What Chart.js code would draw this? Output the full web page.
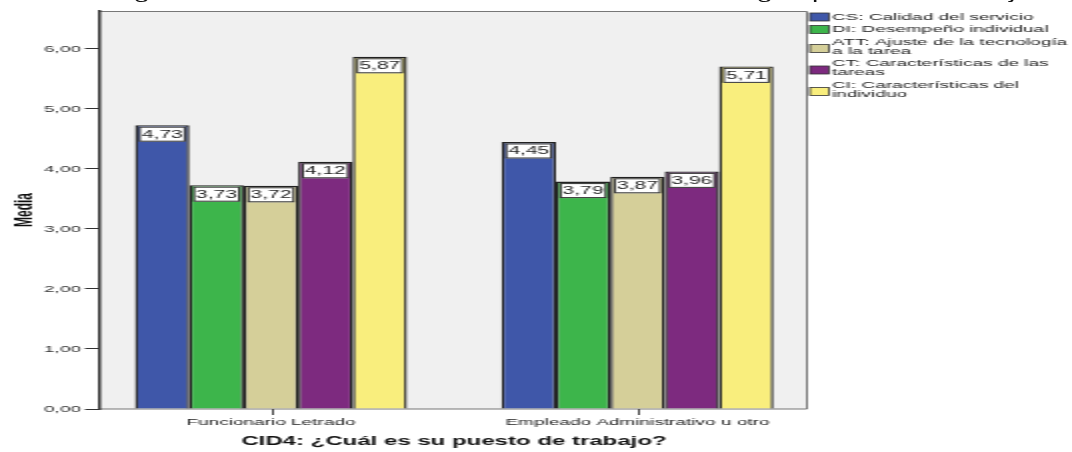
<!DOCTYPE html>
<html>
<head>
<meta charset="utf-8">
<script src="https://cdn.jsdelivr.net/npm/chart.js@4"></script>
<style>
html,body{margin:0;padding:0;background:#fff;overflow:hidden;}
#wrap{position:absolute;left:0;top:0;width:536px;height:452px;transform:scaleX(2);transform-origin:0 0;}
#cap{position:absolute;left:55px;top:-14px;line-height:16px;font:14.2px "Liberation Sans",Arial,sans-serif;color:#111;white-space:nowrap;z-index:2;}
canvas{position:absolute;left:0;top:0;z-index:1;}
</style>
</head>
<body>
<div id="wrap">
  <div id="cap">Figura 4. Medias de las dimensiones del modelo según puesto de trabajo</div>
  <canvas id="grafica" width="536" height="452"></canvas>
</div>
<script>
// datos
const categorias = ["Funcionario Letrado", "Empleado Administrativo u otro"];
const series = [
  "CS: Calidad del servicio",
  "DI: Desempeño individual",
  "ATT: Ajuste de la tecnología\na la tarea",
  "CT: Características de las\ntareas",
  "CI: Características del\nindividuo"
];
const CS  = [4.73, 4.45];
const DI  = [3.73, 3.79];
const ATT = [3.72, 3.87];
const CT  = [4.12, 3.96];
const CI  = [5.87, 5.71];
const ticksY = [0, 1, 2, 3, 4, 5, 6];
const colores = ["#3f57a9", "#3db54b", "#d5cf99", "#7d2a7f", "#f9ee7d"];

const fuente = '"Liberation Sans", Arial, sans-serif';
function coma(v){ return v.toFixed(2).replace(".", ","); }

// fondo gris, marco del area y marcas del eje x
const fondo = {
  id: "fondo",
  beforeDraw(chart){
    const a = chart.chartArea, c = chart.ctx;
    c.save();
    c.fillStyle = "#f0f0f0";
    c.fillRect(a.left, a.top, a.right - a.left, a.bottom - a.top);
    c.strokeStyle = "#777";
    c.lineWidth = 1;
    c.beginPath();
    c.moveTo(a.left, a.top + 0.5);
    c.lineTo(a.right - 0.5, a.top + 0.5);
    c.lineTo(a.right - 0.5, a.bottom);
    c.lineTo(a.left, a.bottom);
    c.stroke();
    // marcas en el centro de cada categoria
    const x = chart.scales.x;
    c.strokeStyle = "#444";
    c.beginPath();
    categorias.forEach((_, i) => {
      const px = Math.round(x.getPixelForValue(i)) + 0.5;
      c.moveTo(px, a.bottom);
      c.lineTo(px, a.bottom + 6);
    });
    c.stroke();
    c.restore();
  }
};

// mover los centros de las categorias como en el original
const centros = {
  id: "centros",
  afterLayout(chart){
    const x = chart.scales.x;
    x._startPixel = 43.9;
    x._length = 366.5;
    x._endPixel = 43.9 + 366.5;
  }
};

// cajitas con el valor
const etiquetas = {
  id: "etiquetas",
  afterDatasetsDraw(chart){
    const c = chart.ctx;
    c.save();
    c.font = "10.5px " + fuente;
    c.textAlign = "center";
    c.textBaseline = "middle";
    chart.data.datasets.forEach((ds, i) => {
      chart.getDatasetMeta(i).data.forEach((bar, j) => {
        const txt = coma(ds.data[j]);
        const w = c.measureText(txt).width + 2;
        const top = bar.y + 1.5;
        c.fillStyle = "#fff";
        c.fillRect(bar.x - w / 2, top, w, 15);
        c.strokeStyle = "#333";
        c.lineWidth = 1;
        c.strokeRect(bar.x - w / 2, top + 0.5, w, 14);
        c.fillStyle = "#222";
        c.fillText(txt, bar.x, top + 8);
      });
    });
    c.restore();
  }
};

// leyenda a la derecha
const leyenda = {
  id: "leyenda",
  afterDraw(chart){
    const c = chart.ctx;
    const x0 = chart.chartArea.right + 1;
    c.save();
    c.font = "9.5px " + fuente;
    c.textBaseline = "middle";
    let y = 17;
    series.forEach((nombre, i) => {
      const lineas = nombre.split("\n");
      const centro = y + (lineas.length - 1) * 9 / 2 + (lineas.length > 1 ? 2 : 0);
      c.fillStyle = colores[i];
      c.fillRect(x0, centro - 4, 9.5, 8);
      c.strokeStyle = "#333";
      c.lineWidth = 0.8;
      c.strokeRect(x0, centro - 4, 9.5, 8);
      c.fillStyle = "#222";
      lineas.forEach((l, k) => c.fillText(l, x0 + 11, y + k * 9));
      y += lineas.length * 9 + 3.5;
    });
    c.restore();
  }
};

const datos = [CS, DI, ATT, CT, CI];

new Chart(document.getElementById("grafica").getContext("2d"), {
  type: "bar",
  data: {
    labels: categorias,
    datasets: datos.map((d, i) => ({
      label: series[i].replace("\n", " "),
      data: d,
      backgroundColor: colores[i],
      borderColor: "#222",
      borderWidth: 1.4,
      categoryPercentage: 0.742,
      barPercentage: 1.0
    }))
  },
  options: {
    responsive: false,
    animation: false,
    devicePixelRatio: 1,
    layout: { padding: { left: 0, right: 132, top: 11, bottom: 0 } },
    plugins: { legend: { display: false }, tooltip: { enabled: false } },
    scales: {
      x: {
        grid: { drawOnChartArea: false, color: "rgba(0,0,0,0)", tickLength: 6 },
        border: { display: false },
        ticks: { color: "#222", font: { family: fuente, size: 9.5 }, padding: 2 },
        title: {
          display: true,
          text: "CID4: ¿Cuál es su puesto de trabajo?",
          color: "#111",
          font: { family: fuente, size: 12, weight: "bold" },
          padding: { top: 0, bottom: 3 }
        },
        afterFit(s){ s.height = 43; }
      },
      y: {
        min: 0,
        max: 6.633,
        afterBuildTicks(s){ s.ticks = ticksY.map(v => ({ value: v })); },
        grid: { drawOnChartArea: false, color: "#333", tickLength: 7.5 },
        border: { color: "#333", width: 1.5 },
        ticks: {
          color: "#333",
          font: { family: fuente, size: 9.5 },
          padding: 2,
          callback: v => coma(v)
        },
        title: {
          display: true,
          text: "Media",
          color: "#111",
          font: { family: fuente, size: 12, weight: "bold" },
          padding: { top: 5, bottom: 0 }
        },
        afterFit(s){ s.width = 50; }
      }
    }
  },
  plugins: [fondo, centros, etiquetas, leyenda]
});
</script>
</body>
</html>
